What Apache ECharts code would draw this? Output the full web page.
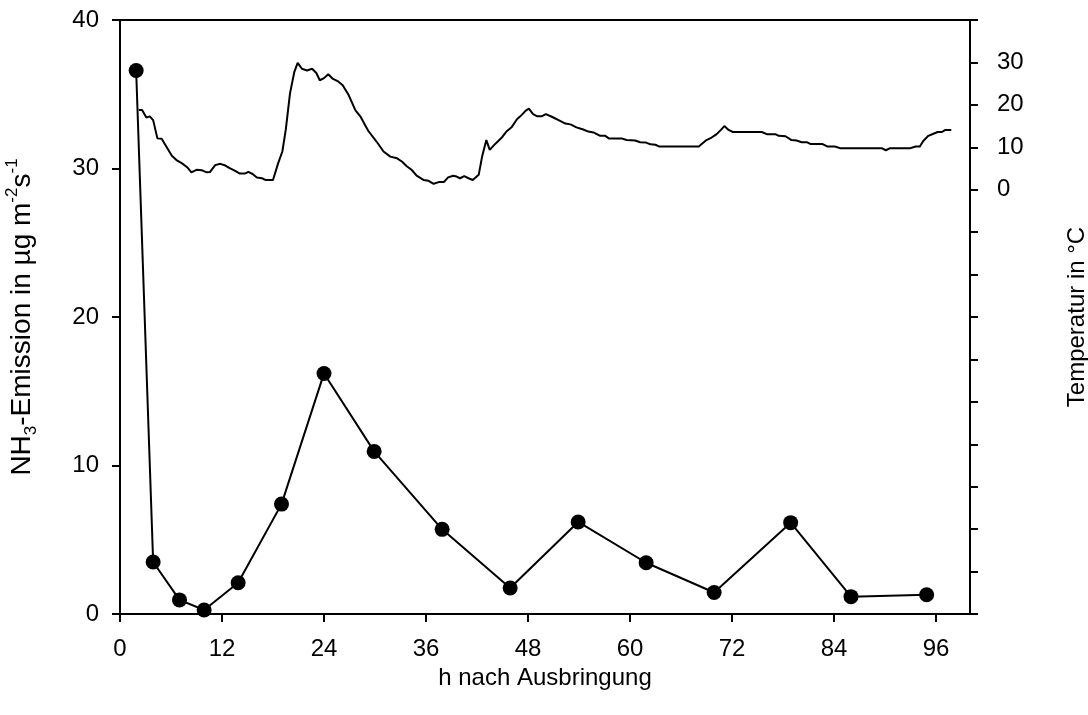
<!DOCTYPE html>
<html>
<head>
<meta charset="utf-8">
<script src="https://cdn.jsdelivr.net/npm/echarts@6/dist/echarts.min.js"></script>
<style>
  html, body { margin: 0; padding: 0; background: #fff; }
  #chart { width: 1088px; height: 715px; }
</style>
</head>
<body>
<div id="chart"></div>
<script>
// NH3 emission measurements (hours after application, µg m-2 s-1)
const emissionHours = [1.9, 3.9, 7, 9.9, 13.9, 19, 24, 29.9, 37.9, 45.9, 53.9, 61.9, 69.9, 78.9, 86, 94.9];
const emissionValues = [36.6, 3.5, 0.95, 0.27, 2.1, 7.4, 16.2, 10.95, 5.7, 1.75, 6.2, 3.45, 1.45, 6.15, 1.17, 1.3];

// Air temperature record (hours after application, °C)
const tempHours = [2.2, 2.6, 3.1, 3.5, 3.9, 4.4, 4.9, 5.5, 6.1, 6.7, 7.3, 7.9, 8.4, 9.0, 9.6, 10.2, 10.6, 11.2, 11.8, 12.4,
  12.9, 13.5, 14.1, 14.7, 15.1, 15.6, 16.1, 16.7, 17.1, 18.0, 18.6, 19.1, 19.5, 20.0, 20.5, 20.9, 21.4, 22.0, 22.6, 23.1,
  23.5, 24.0, 24.5, 25.0, 25.6, 26.2, 26.9, 27.7, 28.3, 29.2, 30.2, 31.0, 31.8, 32.6, 33.2, 33.7, 34.3, 34.9, 35.7, 36.3,
  36.9, 37.5, 38.1, 38.6, 39.2, 39.6, 40.0, 40.5, 41.0, 41.5, 42.2, 42.6, 43.1, 43.5, 44.0, 44.5, 45.0, 45.5, 46.1, 46.7,
  47.3, 47.7, 48.1, 48.6, 49.1, 49.6, 50.1, 50.8, 51.6, 52.4, 53.0, 53.7, 54.5, 55.1, 55.7, 56.5, 57.1, 57.5, 59.0, 59.6,
  60.6, 61.2, 61.9, 62.4, 63.0, 63.4, 68.1, 68.4, 69.0, 69.6, 70.2, 70.7, 71.1, 71.6, 72.1, 75.5, 76.1, 77.1, 77.5, 78.3,
  79.0, 79.6, 80.2, 80.8, 81.2, 82.6, 83.2, 84.1, 84.7, 89.6, 90.1, 90.6, 93.0, 93.6, 94.1, 94.5, 95.1, 95.7, 96.2, 96.7,
  97.1, 97.8];
const tempValues = [18.8, 18.8, 17.0, 17.3, 16.4, 12.1, 12.0, 10.0, 8.0, 6.9, 6.2, 5.3, 4.1, 4.7, 4.6, 4.1, 4.2, 5.8, 6.1, 5.7,
  5.1, 4.5, 3.8, 3.8, 4.2, 3.7, 2.9, 2.7, 2.3, 2.3, 6.2, 9.0, 14.1, 22.7, 27.7, 29.9, 28.5, 28.1, 28.5, 27.5,
  25.8, 26.3, 27.2, 26.2, 25.6, 24.6, 22.3, 18.7, 17.2, 13.9, 11.3, 9.0, 7.8, 7.4, 6.6, 5.6, 4.7, 3.3, 2.3, 2.1,
  1.4, 1.8, 1.8, 2.9, 3.3, 3.1, 2.7, 3.2, 2.7, 2.3, 3.5, 7.8, 11.7, 9.4, 10.5, 11.5, 12.5, 13.8, 14.8, 16.6,
  17.7, 18.6, 19.1, 17.8, 17.3, 17.3, 17.8, 17.2, 16.4, 15.6, 15.4, 14.7, 14.2, 13.7, 13.5, 12.7, 12.7, 12.1, 12.1, 11.7,
  11.6, 11.2, 11.1, 10.7, 10.6, 10.2, 10.2, 10.7, 11.7, 12.3, 13.1, 14.1, 15.0, 14.1, 13.6, 13.6, 13.1, 13.1, 12.7, 12.6,
  11.7, 11.6, 11.2, 11.2, 10.8, 10.8, 10.2, 10.2, 9.8, 9.8, 9.3, 9.8, 9.8, 10.2, 10.2, 11.5, 12.7, 13.2, 13.6, 13.6,
  14.1, 14.1];

// Axis tick values
const xTicks = [0, 12, 24, 36, 48, 60, 72, 84, 96];
const leftTicks = [0, 10, 20, 30, 40];
const rightLabelTicks = [0, 10, 20, 30];

const FONT = 'Liberation Sans, Arial, sans-serif';
const emissionData = emissionHours.map((h, i) => [h, emissionValues[i]]);
const tempData = tempHours.map((h, i) => [h, tempValues[i]]);

const chart = echarts.init(document.getElementById('chart'), null, { renderer: 'canvas' });
chart.setOption({
  animation: false,
  backgroundColor: '#ffffff',
  grid: {
    left: 120, right: 118, top: 20, bottom: 101,
    outerBoundsMode: 'none', containLabel: false,
    show: true, borderColor: '#000', borderWidth: 2, backgroundColor: 'transparent'
  },
  xAxis: {
    type: 'value', min: 0, max: 100, interval: 12,
    name: 'h nach Ausbringung', nameLocation: 'middle', nameGap: 47,
    nameTextStyle: { fontFamily: FONT, fontSize: 24, color: '#000' },
    axisLine: { show: true, onZero: false, lineStyle: { color: '#000', width: 2 } },
    axisTick: { show: true, inside: false, length: 8, customValues: xTicks, lineStyle: { color: '#000', width: 2 } },
    axisLabel: {
      customValues: xTicks, margin: 23, fontFamily: FONT, fontSize: 24, color: '#000',
      formatter: v => (xTicks.indexOf(v) >= 0 ? String(v) : '')
    },
    splitLine: { show: false }
  },
  yAxis: [
    {
      type: 'value', position: 'left', min: 0, max: 40, interval: 10,
      name: 'NH{sub|3}-Emission in µg m{sup|-2}s{sup|-1}',
      nameLocation: 'middle', nameRotate: 90, nameGap: 80,
      nameTextStyle: {
        fontFamily: FONT, fontSize: 28, color: '#000', lineHeight: 36,
        rich: {
          sub: { fontFamily: FONT, fontSize: 17, color: '#000', verticalAlign: 'bottom', lineHeight: 36 },
          sup: { fontFamily: FONT, fontSize: 17, color: '#000', verticalAlign: 'top', lineHeight: 36 }
        }
      },
      axisLine: { show: true, onZero: false, lineStyle: { color: '#000', width: 2 } },
      axisTick: { show: true, inside: false, length: 8, lineStyle: { color: '#000', width: 2 } },
      axisLabel: {
        margin: 21, fontFamily: FONT, fontSize: 24, color: '#000',
        formatter: v => (leftTicks.indexOf(v) >= 0 ? String(v) : '')
      },
      splitLine: { show: false }
    },
    {
      type: 'value', position: 'right', min: -100, max: 40, interval: 10,
      name: 'Temperatur in °C', nameLocation: 'middle', nameRotate: 90, nameGap: 95,
      nameTextStyle: { fontFamily: FONT, fontSize: 24, color: '#000' },
      axisLine: { show: true, onZero: false, lineStyle: { color: '#000', width: 2 } },
      axisTick: { show: true, inside: false, length: 8, lineStyle: { color: '#000', width: 2 } },
      axisLabel: {
        margin: 27, fontFamily: FONT, fontSize: 24, color: '#000',
        formatter: v => (rightLabelTicks.indexOf(v) >= 0 ? String(v) : '')
      },
      splitLine: { show: false }
    }
  ],
  series: [
    {
      name: 'Temperatur',
      type: 'line', yAxisIndex: 1,
      data: tempData,
      showSymbol: false, symbol: 'none',
      lineStyle: { color: '#000', width: 2 },
      z: 2
    },
    {
      name: 'NH3-Emission',
      type: 'line', yAxisIndex: 0,
      data: emissionData,
      symbol: 'circle', symbolSize: 15,
      itemStyle: { color: '#000' },
      lineStyle: { color: '#000', width: 2 },
      z: 3
    }
  ]
});
</script>
</body>
</html>
